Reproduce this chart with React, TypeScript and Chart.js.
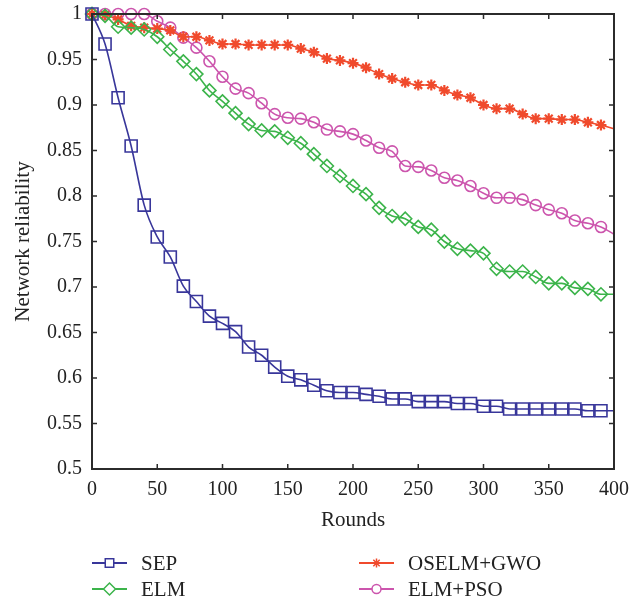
import React, { useEffect, useRef } from 'react';
import { Chart, registerables } from 'chart.js';
import { drawPoint } from 'chart.js/helpers';

Chart.register(...registerables);

const rounds = [0, 10, 20, 30, 40, 50, 60, 70, 80, 90, 100, 110, 120, 130, 140, 150, 160, 170, 180, 190, 200, 210, 220, 230, 240, 250, 260, 270, 280, 290, 300, 310, 320, 330, 340, 350, 360, 370, 380, 390, 400];

const sep = [1.0, 0.967, 0.908, 0.855, 0.790, 0.755, 0.733, 0.701, 0.684, 0.668, 0.660, 0.651, 0.634, 0.625, 0.612, 0.602, 0.598, 0.592, 0.586, 0.584, 0.584, 0.582, 0.580, 0.577, 0.577, 0.574, 0.574, 0.574, 0.572, 0.572, 0.569, 0.569, 0.566, 0.566, 0.566, 0.566, 0.566, 0.566, 0.564, 0.564, 0.564];

const elm = [1.0, 0.998, 0.986, 0.985, 0.983, 0.975, 0.961, 0.948, 0.934, 0.916, 0.904, 0.891, 0.879, 0.872, 0.871, 0.864, 0.858, 0.846, 0.833, 0.822, 0.811, 0.802, 0.787, 0.778, 0.775, 0.766, 0.763, 0.750, 0.742, 0.740, 0.737, 0.720, 0.717, 0.717, 0.711, 0.704, 0.704, 0.699, 0.698, 0.692, 0.692];

const oselmGwo = [1.0, 0.999, 0.994, 0.987, 0.985, 0.984, 0.982, 0.975, 0.975, 0.971, 0.967, 0.967, 0.966, 0.966, 0.966, 0.966, 0.962, 0.958, 0.951, 0.949, 0.946, 0.941, 0.934, 0.929, 0.925, 0.922, 0.922, 0.916, 0.911, 0.908, 0.900, 0.896, 0.896, 0.890, 0.885, 0.885, 0.884, 0.884, 0.881, 0.878, 0.874];

const elmPso = [1.0, 1.0, 1.0, 1.0, 1.0, 0.992, 0.985, 0.974, 0.963, 0.948, 0.931, 0.918, 0.913, 0.902, 0.890, 0.886, 0.885, 0.881, 0.873, 0.871, 0.868, 0.861, 0.853, 0.849, 0.833, 0.832, 0.828, 0.820, 0.817, 0.811, 0.803, 0.798, 0.798, 0.796, 0.790, 0.785, 0.781, 0.773, 0.770, 0.766, 0.758];

const xTicks = [0, 50, 100, 150, 200, 250, 300, 350, 400];
const yTicks = [0.5, 0.55, 0.6, 0.65, 0.7, 0.75, 0.8, 0.85, 0.9, 0.95, 1];

const FONT = '"Liberation Serif", "Times New Roman", serif';

const seriesDefs = [
  { label: 'SEP', data: sep, color: '#38369a', style: 'rect', r: 8.5, lr: 6, col: 0, row: 0 },
  { label: 'ELM', data: elm, color: '#3cb44b', style: 'rectRot', r: 6.5, lr: 6, col: 0, row: 1 },
  { label: 'OSELM+GWO', data: oselmGwo, color: '#f04a2c', style: 'star', r: 5.5, lr: 4.5, col: 1, row: 0 },
  { label: 'ELM+PSO', data: elmPso, color: '#cc55ad', style: 'circle', r: 5.5, lr: 4.5, col: 1, row: 1 },
];

const framePlugin = {
  id: 'frameTicks',
  afterDraw(chart: any) {
    const { ctx, chartArea } = chart;
    const { left, right, top, bottom } = chartArea;
    const xs = chart.scales.x;
    const ys = chart.scales.y;
    ctx.save();
    ctx.strokeStyle = '#2b2b2b';
    ctx.lineWidth = 2;
    ctx.strokeRect(left, top, right - left, bottom - top);
    ctx.lineWidth = 1.5;
    const tl = 5;
    ctx.beginPath();
    xTicks.forEach((v) => {
      const px = xs.getPixelForValue(v);
      ctx.moveTo(px, bottom);
      ctx.lineTo(px, bottom - tl);
      ctx.moveTo(px, top);
      ctx.lineTo(px, top + tl);
    });
    yTicks.forEach((v) => {
      const py = ys.getPixelForValue(v);
      ctx.moveTo(left, py);
      ctx.lineTo(left + tl, py);
      ctx.moveTo(right, py);
      ctx.lineTo(right - tl, py);
    });
    ctx.stroke();

    // legend
    const colX = [{ l0: 92, l1: 127, t: 141 }, { l0: 359, l1: 394, t: 408 }];
    const rowY = [563, 589];
    ctx.font = '21px ' + FONT;
    ctx.textBaseline = 'middle';
    ctx.textAlign = 'left';
    seriesDefs.forEach((s) => {
      const c = colX[s.col];
      const y = rowY[s.row];
      ctx.strokeStyle = s.color;
      ctx.lineWidth = 2;
      ctx.beginPath();
      ctx.moveTo(c.l0, y);
      ctx.lineTo(c.l1, y);
      ctx.stroke();
      ctx.fillStyle = '#ffffff';
      ctx.lineWidth = 1.5;
      drawPoint(ctx, { pointStyle: s.style, radius: s.lr, rotation: 0, borderWidth: 1.5 }, (c.l0 + c.l1) / 2, y);
      ctx.fillStyle = '#222222';
      ctx.fillText(s.label, c.t, y + 1);
    });
    ctx.restore();
  },
};

export default function App() {
  const canvasRef = useRef<HTMLCanvasElement | null>(null);

  useEffect(() => {
    if (!canvasRef.current) return;
    const datasets = seriesDefs.map((s) => ({
      label: s.label,
      data: rounds.map((x, i) => ({ x, y: s.data[i] })),
      borderColor: s.color,
      backgroundColor: 'rgba(255,255,255,0)',
      borderWidth: 1.6,
      pointStyle: s.style,
      pointRadius: (c: any) => (c.dataIndex === rounds.length - 1 ? 0 : s.r),
      pointBorderWidth: s.style === 'star' ? 2.2 : 1.6,
      pointBorderColor: s.color,
      pointBackgroundColor: 'rgba(255,255,255,0)',
      cubicInterpolationMode: 'monotone' as const,
      clip: false as any,
    }));

    const chart = new Chart(canvasRef.current, {
      type: 'line',
      data: { datasets },
      options: {
        animation: false,
        responsive: false,
        maintainAspectRatio: false,
        layout: { padding: { left: 0, top: 14, right: 29, bottom: 68 } },
        plugins: { legend: { display: false }, tooltip: { enabled: false } },
        scales: {
          x: {
            type: 'linear',
            min: 0,
            max: 400,
            grid: { display: false, drawTicks: false },
            border: { display: false },
            afterFit: (scale: any) => {
              scale.height = 64;
              scale.paddingLeft = 0;
              scale.paddingRight = 0;
            },
            ticks: {
              stepSize: 50,
              padding: 9,
              color: '#222',
              font: { family: FONT, size: 20 },
              maxRotation: 0,
              callback: (v: any) => String(v),
            },
            title: {
              display: true,
              text: 'Rounds',
              color: '#222',
              font: { family: FONT, size: 21 },
              padding: 0,
            },
          },
          y: {
            min: 0.5,
            max: 1,
            grid: { display: false, drawTicks: false },
            border: { display: false },
            afterFit: (scale: any) => {
              scale.width = 92;
              scale.paddingTop = 0;
              scale.paddingBottom = 0;
            },
            ticks: {
              stepSize: 0.05,
              padding: 10,
              color: '#222',
              font: { family: FONT, size: 20 },
              callback: (v: any) => String(parseFloat(Number(v).toFixed(2))),
            },
            title: {
              display: true,
              text: 'Network reliability',
              color: '#222',
              font: { family: FONT, size: 21 },
              padding: { top: 11, bottom: 0 },
            },
          },
        },
      },
      plugins: [framePlugin],
    });
    return () => chart.destroy();
  }, []);

  return (
    <div style={{ position: 'fixed', left: 0, top: 0, width: 643, height: 601, background: '#fff' }}>
      <canvas ref={canvasRef} width={643} height={601} style={{ width: 643, height: 601, display: 'block' }} />
    </div>
  );
}
